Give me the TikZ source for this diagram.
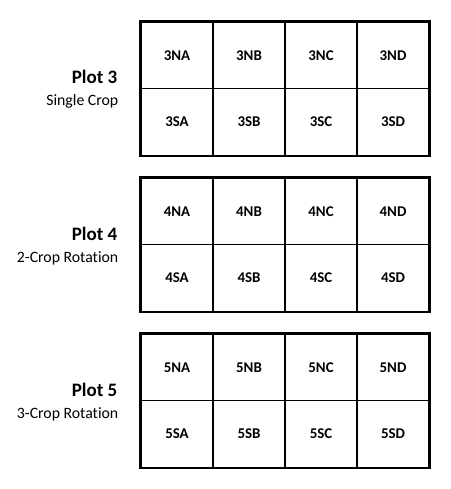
\documentclass[tikz,border=0pt]{standalone}
\usepackage{fontspec}
\setmainfont{Carlito}[Ligatures={NoCommon}]
\begin{document}
\begin{tikzpicture}[x=1pt,y=-1pt,
  cell/.style={draw, line width=1.3pt, minimum width=72pt, minimum height=66.7pt, inner sep=0pt, font=\fontsize{14.9}{17}\selectfont\bfseries},
  plottitle/.style={anchor=base east, inner sep=0pt, font=\fontsize{19}{22}\selectfont\bfseries},
  plotsub/.style={anchor=base east, inner sep=0pt, font=\fontsize{15.8}{18}\selectfont},
  plotframe/.style={draw, line width=2.6pt}]
\useasboundingbox (0,0) rectangle (450,489);
\foreach \p/\s [count=\i from 0] in {3/Single Crop,4/2-Crop Rotation,5/3-Crop Rotation} {
  \pgfmathsetmacro\ytop{22+156*\i}
  \foreach \c [count=\j from 0] in {A,B,C,D} {
    \node[cell] (\p N\c) at (177+72*\j, \ytop+33.35) {\p N\c};
    \node[cell] (\p S\c) at (177+72*\j, \ytop+100.05) {\p S\c};
  }
  \draw[plotframe] (\p NA.north west) rectangle (\p SD.south east);
  \node[plottitle] (title\p) at (117.5, \ytop+62) {Plot \p};
  \node[plotsub] (sub\p) at (118.5, \ytop+84) {\s};
}
\end{tikzpicture}
\end{document}
